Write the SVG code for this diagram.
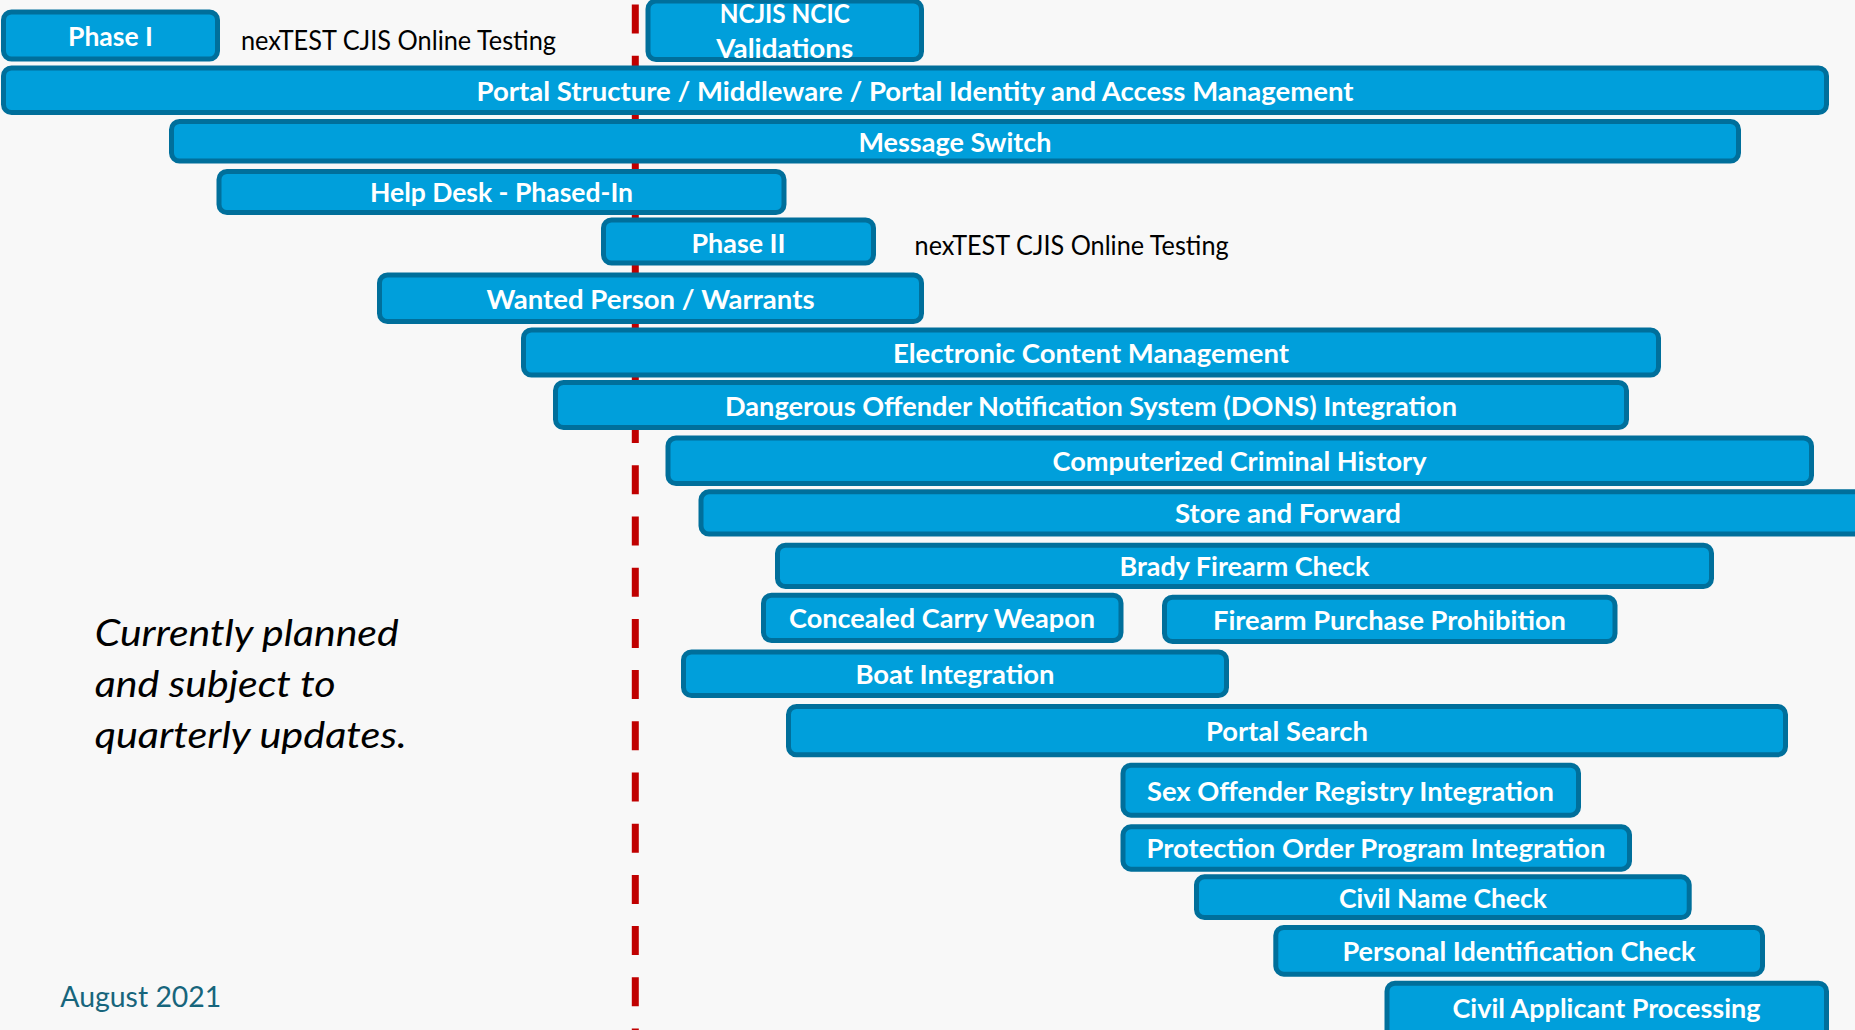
<svg xmlns="http://www.w3.org/2000/svg" width="1855" height="1030" viewBox="0 0 1855 1030">
  <style>
    .bar { fill: #009fdb; stroke: #006f9b; stroke-width: 5; }
    .lbl { font-family: Lato, "Open Sans", "Liberation Sans", sans-serif; font-weight: bold; font-size: 26px; fill: #ffffff; text-anchor: middle; }
    .note { font-family: Lato, "Open Sans", "Liberation Sans", sans-serif; font-size: 26px; fill: #000000; }
    .ital { font-family: Lato, "Open Sans", "Liberation Sans", sans-serif; font-style: italic; font-size: 37px; fill: #000000; }
    .date { font-family: Lato, "Liberation Sans", sans-serif; font-size: 28px; fill: #17657c; }
  </style>
  <rect x="0" y="0" width="1855" height="1030" fill="#f8f8f8"/>

  <line id="today-line" x1="635.3" y1="4.5" x2="635.3" y2="1030" stroke="#c00000" stroke-width="7" stroke-dasharray="29 22.2"/>

  <g id="phase-1">
    <rect class="bar" x="3.5" y="12" width="214" height="47" rx="8"/>
    <text class="lbl" x="110.5" y="45.7" textLength="85" lengthAdjust="spacingAndGlyphs">Phase I</text>
  </g>
  <g id="phase-1-note">
    <text class="note" x="241" y="49.5" textLength="315" lengthAdjust="spacingAndGlyphs">nexTEST CJIS Online Testing</text>
  </g>
  <g id="ncjis-ncic">
    <rect class="bar" x="648" y="1" width="273.5" height="58.5" rx="8"/>
    <text class="lbl" x="784.8" y="23.3" textLength="130" lengthAdjust="spacingAndGlyphs">NCJIS NCIC</text>
    <text class="lbl" x="784.8" y="57.8" textLength="137" lengthAdjust="spacingAndGlyphs">Validations</text>
  </g>
  <g id="portal-structure">
    <rect class="bar" x="3.5" y="68" width="1823" height="44.5" rx="8"/>
    <text class="lbl" x="915" y="100.5" textLength="877" lengthAdjust="spacingAndGlyphs">Portal Structure / Middleware / Portal Identity and Access Management</text>
  </g>
  <g id="message-switch">
    <rect class="bar" x="171.5" y="121.5" width="1567" height="39.5" rx="8"/>
    <text class="lbl" x="955" y="151.5" textLength="193" lengthAdjust="spacingAndGlyphs">Message Switch</text>
  </g>
  <g id="help-desk">
    <rect class="bar" x="219" y="171.5" width="565" height="41" rx="8"/>
    <text class="lbl" x="501.5" y="201.5" textLength="263" lengthAdjust="spacingAndGlyphs">Help Desk - Phased-In</text>
  </g>
  <g id="phase-2">
    <rect class="bar" x="603.5" y="220" width="270" height="43" rx="8"/>
    <text class="lbl" x="738.5" y="252.5" textLength="94" lengthAdjust="spacingAndGlyphs">Phase II</text>
  </g>
  <g id="phase-2-note">
    <text class="note" x="914.6" y="255" textLength="314" lengthAdjust="spacingAndGlyphs">nexTEST CJIS Online Testing</text>
  </g>
  <g id="wanted-person">
    <rect class="bar" x="379.5" y="275" width="542" height="46.5" rx="8"/>
    <text class="lbl" x="650.5" y="309" textLength="328" lengthAdjust="spacingAndGlyphs">Wanted Person / Warrants</text>
  </g>
  <g id="ecm">
    <rect class="bar" x="523.5" y="330" width="1135" height="45" rx="8"/>
    <text class="lbl" x="1091" y="362.5" textLength="396" lengthAdjust="spacingAndGlyphs">Electronic Content Management</text>
  </g>
  <g id="dons">
    <rect class="bar" x="555.5" y="382.5" width="1071" height="45" rx="8"/>
    <text class="lbl" x="1091" y="415.5" textLength="732" lengthAdjust="spacingAndGlyphs">Dangerous Offender Notification System (DONS) Integration</text>
  </g>
  <g id="cch">
    <rect class="bar" x="668" y="438" width="1143.5" height="45.5" rx="8"/>
    <text class="lbl" x="1239.5" y="470.5" textLength="374" lengthAdjust="spacingAndGlyphs">Computerized Criminal History</text>
  </g>
  <g id="store-forward">
    <rect class="bar" x="701" y="491.8" width="1174.5" height="42.2" rx="8"/>
    <text class="lbl" x="1288" y="522.5" textLength="226" lengthAdjust="spacingAndGlyphs">Store and Forward</text>
  </g>
  <g id="brady">
    <rect class="bar" x="777.5" y="545.2" width="934" height="41.3" rx="8"/>
    <text class="lbl" x="1244.5" y="576" textLength="250" lengthAdjust="spacingAndGlyphs">Brady Firearm Check</text>
  </g>
  <g id="concealed-carry">
    <rect class="bar" x="763.5" y="595.2" width="357.5" height="45.3" rx="8"/>
    <text class="lbl" x="942" y="627.5" textLength="306" lengthAdjust="spacingAndGlyphs">Concealed Carry Weapon</text>
  </g>
  <g id="firearm-purchase">
    <rect class="bar" x="1164.5" y="597.2" width="450.5" height="44.3" rx="8"/>
    <text class="lbl" x="1389.5" y="630" textLength="353" lengthAdjust="spacingAndGlyphs">Firearm Purchase Prohibition</text>
  </g>
  <g id="boat">
    <rect class="bar" x="683.5" y="652" width="543" height="43.5" rx="8"/>
    <text class="lbl" x="955" y="683.5" textLength="199" lengthAdjust="spacingAndGlyphs">Boat Integration</text>
  </g>
  <g id="portal-search">
    <rect class="bar" x="788.5" y="706.5" width="997" height="48.3" rx="8"/>
    <text class="lbl" x="1287" y="740.5" textLength="162" lengthAdjust="spacingAndGlyphs">Portal Search</text>
  </g>
  <g id="sex-offender">
    <rect class="bar" x="1123" y="765.2" width="455.5" height="50" rx="8"/>
    <text class="lbl" x="1350.5" y="801" textLength="407" lengthAdjust="spacingAndGlyphs">Sex Offender Registry Integration</text>
  </g>
  <g id="protection-order">
    <rect class="bar" x="1123" y="826.8" width="506.5" height="42.4" rx="8"/>
    <text class="lbl" x="1376" y="858" textLength="459" lengthAdjust="spacingAndGlyphs">Protection Order Program Integration</text>
  </g>
  <g id="civil-name">
    <rect class="bar" x="1196.5" y="876.8" width="492.7" height="40.7" rx="8"/>
    <text class="lbl" x="1443" y="907.5" textLength="208" lengthAdjust="spacingAndGlyphs">Civil Name Check</text>
  </g>
  <g id="personal-id">
    <rect class="bar" x="1275.8" y="927.5" width="486.7" height="46.7" rx="8"/>
    <text class="lbl" x="1519" y="961" textLength="353" lengthAdjust="spacingAndGlyphs">Personal Identification Check</text>
  </g>
  <g id="civil-applicant">
    <rect class="bar" x="1387" y="983.2" width="439.5" height="55" rx="8"/>
    <text class="lbl" x="1606.5" y="1018" textLength="308" lengthAdjust="spacingAndGlyphs">Civil Applicant Processing</text>
  </g>

  <g id="caption">
    <text class="ital" x="94.7" y="646" textLength="304" lengthAdjust="spacingAndGlyphs">Currently planned</text>
    <text class="ital" x="94.7" y="696.7" textLength="241" lengthAdjust="spacingAndGlyphs">and subject to</text>
    <text class="ital" x="94.7" y="747.7" textLength="312" lengthAdjust="spacingAndGlyphs">quarterly updates.</text>
  </g>
  <g id="date">
    <text class="date" x="60.3" y="1007" textLength="161" lengthAdjust="spacingAndGlyphs">August 2021</text>
  </g>
</svg>
